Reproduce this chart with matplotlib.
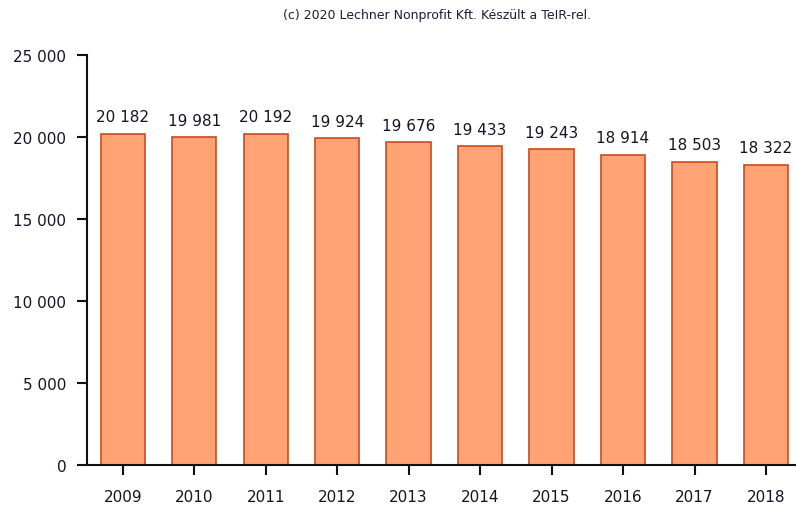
import matplotlib
matplotlib.use("Agg")
import matplotlib.pyplot as plt
from matplotlib.ticker import FuncFormatter

years = ["2009", "2010", "2011", "2012", "2013", "2014", "2015", "2016", "2017", "2018"]
values = [20182, 19981, 20192, 19924, 19676, 19433, 19243, 18914, 18503, 18322]
yticks = [0, 5000, 10000, 15000, 20000, 25000]

W, H = 796, 506
fig = plt.figure(figsize=(W / 100, H / 100), dpi=100)
ax = fig.add_axes([87 / W, (H - 466) / H, (796 - 87) / W, 410 / H])

x = list(range(len(years)))
bars = ax.bar(x, values, width=0.62, color="#FFA374", edgecolor="#C84A24", linewidth=1.2)

def fmt(v):
    return f"{int(v):,}".replace(",", " ")

txtc = "#141428"
for xi, v in zip(x, values):
    ax.annotate(fmt(v), (xi, v), xytext=(0, 7), textcoords="offset points",
                ha="center", va="bottom", fontsize=11, color=txtc)

ax.set_xlim(-0.5, 9.42)
ax.set_ylim(0, 25000)
ax.set_yticks(yticks)
ax.yaxis.set_major_formatter(FuncFormatter(lambda v, p: fmt(v)))
ax.set_xticks(x)
ax.set_xticklabels(years)

for s in ["top", "right"]:
    ax.spines[s].set_visible(False)
for s in ["left", "bottom"]:
    ax.spines[s].set_linewidth(1.5)
    ax.spines[s].set_color("#111111")
ax.tick_params(axis="both", direction="out", length=7, width=1.5, color="#111111",
               labelsize=11, labelcolor=txtc)
ax.tick_params(axis="x", pad=10)
ax.tick_params(axis="y", pad=8)

fig.text(437 / W, 1 - 15 / H, "(c) 2020 Lechner Nonprofit Kft. Készült a TeIR-rel.",
         ha="center", va="center", fontsize=9, color="#1c1c40")

fig.savefig("out.png", dpi=100)
